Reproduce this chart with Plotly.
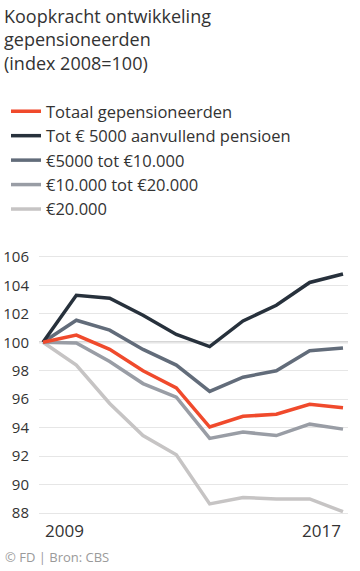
import plotly.graph_objects as go

years = [2008, 2009, 2010, 2011, 2012, 2013, 2014, 2015, 2016, 2017]
series_names = ["Totaal gepensioneerden", "Tot € 5000 aanvullend pensioen",
                "€5000 tot €10.000", "€10.000 tot €20.000", "€20.000"]
totaal = [100, 100.5, 99.5, 98.0, 96.8, 94.05, 94.8, 94.95, 95.65, 95.4]
tot_5000 = [100, 103.3, 103.1, 101.9, 100.55, 99.7, 101.5, 102.6, 104.2, 104.8]
van_5000_10000 = [100, 101.55, 100.85, 99.5, 98.4, 96.55, 97.55, 98.0, 99.4, 99.6]
van_10000_20000 = [100, 99.95, 98.65, 97.1, 96.15, 93.25, 93.7, 93.45, 94.25, 93.9]
boven_20000 = [100, 98.4, 95.7, 93.45, 92.1, 88.65, 89.1, 89.0, 89.0, 88.1]
y_ticks = [88, 90, 92, 94, 96, 98, 100, 102, 104, 106]
title_lines = ["Koopkracht ontwikkeling", "gepensioneerden", "(index 2008=100)"]

colors = ["#F04A2C", "#27313C", "#626C7A", "#999DA5", "#C6C4C4"]
values = [totaal, tot_5000, van_5000_10000, van_10000_20000, boven_20000]

W, H = 360, 571
ML, MR, MT, MB = 39, 12, 254, 55
PW, PH = W - ML - MR, H - MT - MB


def px(x):
    return (x - ML) / PW


def py(y):
    return (H - MB - y) / PH


FONT = "Open Sans"
fig = go.Figure()
draw_order = [4, 3, 2, 1, 0]
for i in draw_order:
    fig.add_trace(go.Scatter(
        x=years, y=values[i], mode="lines", name=series_names[i],
        line=dict(color=colors[i], width=3.5), legendrank=i + 1,
        hoverinfo="skip"))

fig.add_shape(type="line", xref="paper", x0=0, x1=1, yref="y", y0=100, y1=100,
              line=dict(color="#C8C8C8", width=2), layer="below")

annotations = [
    dict(text="<br>".join(title_lines), xref="paper", yref="paper", x=px(2),
         y=py(2), xanchor="left", yanchor="top", showarrow=False,
         align="left", font=dict(size=18, color="#333333")),
    dict(text=str(2009), xref="x", yref="paper", x=years[0], y=py(517),
         xanchor="left", yanchor="top", showarrow=False,
         font=dict(size=17, color="#333333")),
    dict(text=str(years[-1]), xref="x", yref="paper", x=years[-1], y=py(517),
         xanchor="right", yanchor="top", showarrow=False,
         font=dict(size=17, color="#333333")),
    dict(text="© FD | Bron: CBS", xref="paper", yref="paper",
         x=px(3), y=py(557), xanchor="left", yanchor="middle",
         showarrow=False, font=dict(size=13, color="#9A9A9A")),
]

fig.update_layout(
    width=W, height=H,
    margin=dict(l=ML, r=MR, t=MT, b=MB, autoexpand=False),
    paper_bgcolor="white", plot_bgcolor="white",
    font=dict(family=FONT, color="#333333"),
    showlegend=True,
    legend=dict(xref="container", yref="container", x=6 / W, y=1 - 94 / H,
                xanchor="left", yanchor="top", bgcolor="rgba(0,0,0,0)",
                font=dict(size=16.5, color="#333333"), traceorder="normal",
                itemwidth=30),
    xaxis=dict(range=[2007.88, 2017.15], showgrid=False, zeroline=False,
               showticklabels=False, showline=False, fixedrange=True),
    yaxis=dict(range=[87.8, 106.2], tickvals=y_ticks, showgrid=True,
               gridcolor="#E6E6E6", gridwidth=1, zeroline=False,
               tickfont=dict(size=15, color="#333333"), ticklabelstandoff=9,
               showline=False, fixedrange=True),
    annotations=annotations,
)

fig.write_html("out.html", config={"displayModeBar": False},
               post_script="document.body.style.margin='0px';")
